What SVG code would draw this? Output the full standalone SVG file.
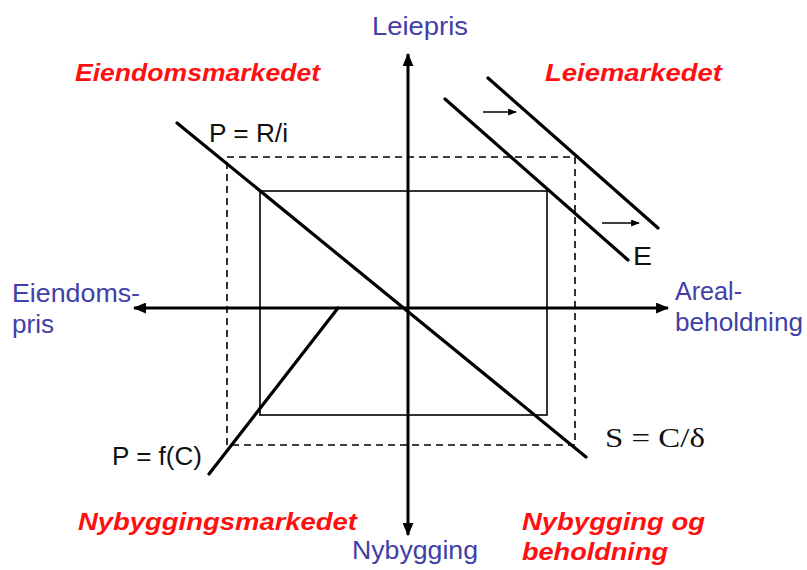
<svg xmlns="http://www.w3.org/2000/svg" width="807" height="570" viewBox="0 0 807 570">
<style>
.ax{stroke:#000;stroke-width:3;fill:none}
.thick{stroke:#000;stroke-width:3.2;fill:none;stroke-linecap:round}
.thin{stroke:#000;stroke-width:1.6;fill:none}
.dash{stroke:#000;stroke-width:1.6;fill:none;stroke-dasharray:7,5}
.blue{font-family:"Liberation Sans",Arial,sans-serif;font-size:25px;fill:#4040a8}
.red{font-family:"Liberation Sans",Arial,sans-serif;font-size:24px;font-weight:bold;font-style:italic;fill:#ff1010}
.blk{font-family:"Liberation Sans",Arial,sans-serif;font-size:25px;fill:#111}
.ser{font-family:"Liberation Serif","Times New Roman",serif;font-size:28px;fill:#111}
</style>
<defs>
<marker id="ah" viewBox="0 0 12 10" refX="11" refY="5" markerWidth="13" markerHeight="11" markerUnits="userSpaceOnUse" orient="auto">
<path d="M0,0 L12,5 L0,10 z" fill="#000"/>
</marker>
<marker id="sah" viewBox="0 0 10 8" refX="9" refY="4" markerWidth="9" markerHeight="7" markerUnits="userSpaceOnUse" orient="auto">
<path d="M0,0 L10,4 L0,8 z" fill="#000"/>
</marker>
</defs>
<rect width="807" height="570" fill="#fff"/>
<g id="connectors">
<line class="ax" x1="408" y1="308" x2="408" y2="54" marker-end="url(#ah)"/>
<line class="ax" x1="408" y1="308" x2="408" y2="535" marker-end="url(#ah)"/>
<line class="ax" x1="408" y1="308" x2="134" y2="308" marker-end="url(#ah)"/>
<line class="ax" x1="408" y1="308" x2="668" y2="308" marker-end="url(#ah)"/>
<rect class="dash" x="227" y="157" width="348" height="288"/>
<rect class="thin" x="260" y="191" width="287" height="224"/>
<line class="thick" x1="177" y1="123" x2="586" y2="457"/>
<line class="thick" x1="338" y1="308" x2="209" y2="474"/>
<line class="thick" x1="445" y1="99" x2="628" y2="260"/>
<line class="thick" x1="488" y1="78" x2="658" y2="228"/>
<line class="thin" x1="483" y1="112" x2="516" y2="112" marker-end="url(#sah)"/>
<line class="thin" x1="602" y1="223" x2="639" y2="223" marker-end="url(#sah)"/>
</g>
<g id="leiepris"><text class="blue" x="372" y="35" textLength="96" lengthAdjust="spacingAndGlyphs">Leiepris</text></g>
<g id="eiendomspris"><text class="blue" x="12" y="302" textLength="128" lengthAdjust="spacingAndGlyphs">Eiendoms-</text><text class="blue" x="12" y="333" textLength="42" lengthAdjust="spacingAndGlyphs">pris</text></g>
<g id="arealbeholdning"><text class="blue" x="675" y="300" textLength="67" lengthAdjust="spacingAndGlyphs">Areal-</text><text class="blue" x="675" y="331" textLength="128" lengthAdjust="spacingAndGlyphs">beholdning</text></g>
<g id="nybygging"><text class="blue" x="352" y="559" textLength="126" lengthAdjust="spacingAndGlyphs">Nybygging</text></g>
<g id="eiendomsmarkedet"><text class="red" x="75" y="81" textLength="245" lengthAdjust="spacingAndGlyphs">Eiendomsmarkedet</text></g>
<g id="leiemarkedet"><text class="red" x="545" y="81" textLength="177" lengthAdjust="spacingAndGlyphs">Leiemarkedet</text></g>
<g id="nybyggingsmarkedet"><text class="red" x="78" y="530" textLength="279" lengthAdjust="spacingAndGlyphs">Nybyggingsmarkedet</text></g>
<g id="nybygging-og-beholdning"><text class="red" x="522" y="530" textLength="183" lengthAdjust="spacingAndGlyphs">Nybygging og</text><text class="red" x="522" y="560" textLength="146" lengthAdjust="spacingAndGlyphs">beholdning</text></g>
<g id="p-ri"><text class="blk" x="209" y="142" textLength="79" lengthAdjust="spacingAndGlyphs">P = R/i</text></g>
<g id="e-label"><text class="blk" x="633" y="265" textLength="19" lengthAdjust="spacingAndGlyphs">E</text></g>
<g id="s-c-delta"><text class="ser" x="605" y="447" textLength="100" lengthAdjust="spacingAndGlyphs">S = C/δ</text></g>
<g id="p-fc"><text class="blk" x="112" y="465" textLength="90" lengthAdjust="spacingAndGlyphs">P = f(C)</text></g>
</svg>
